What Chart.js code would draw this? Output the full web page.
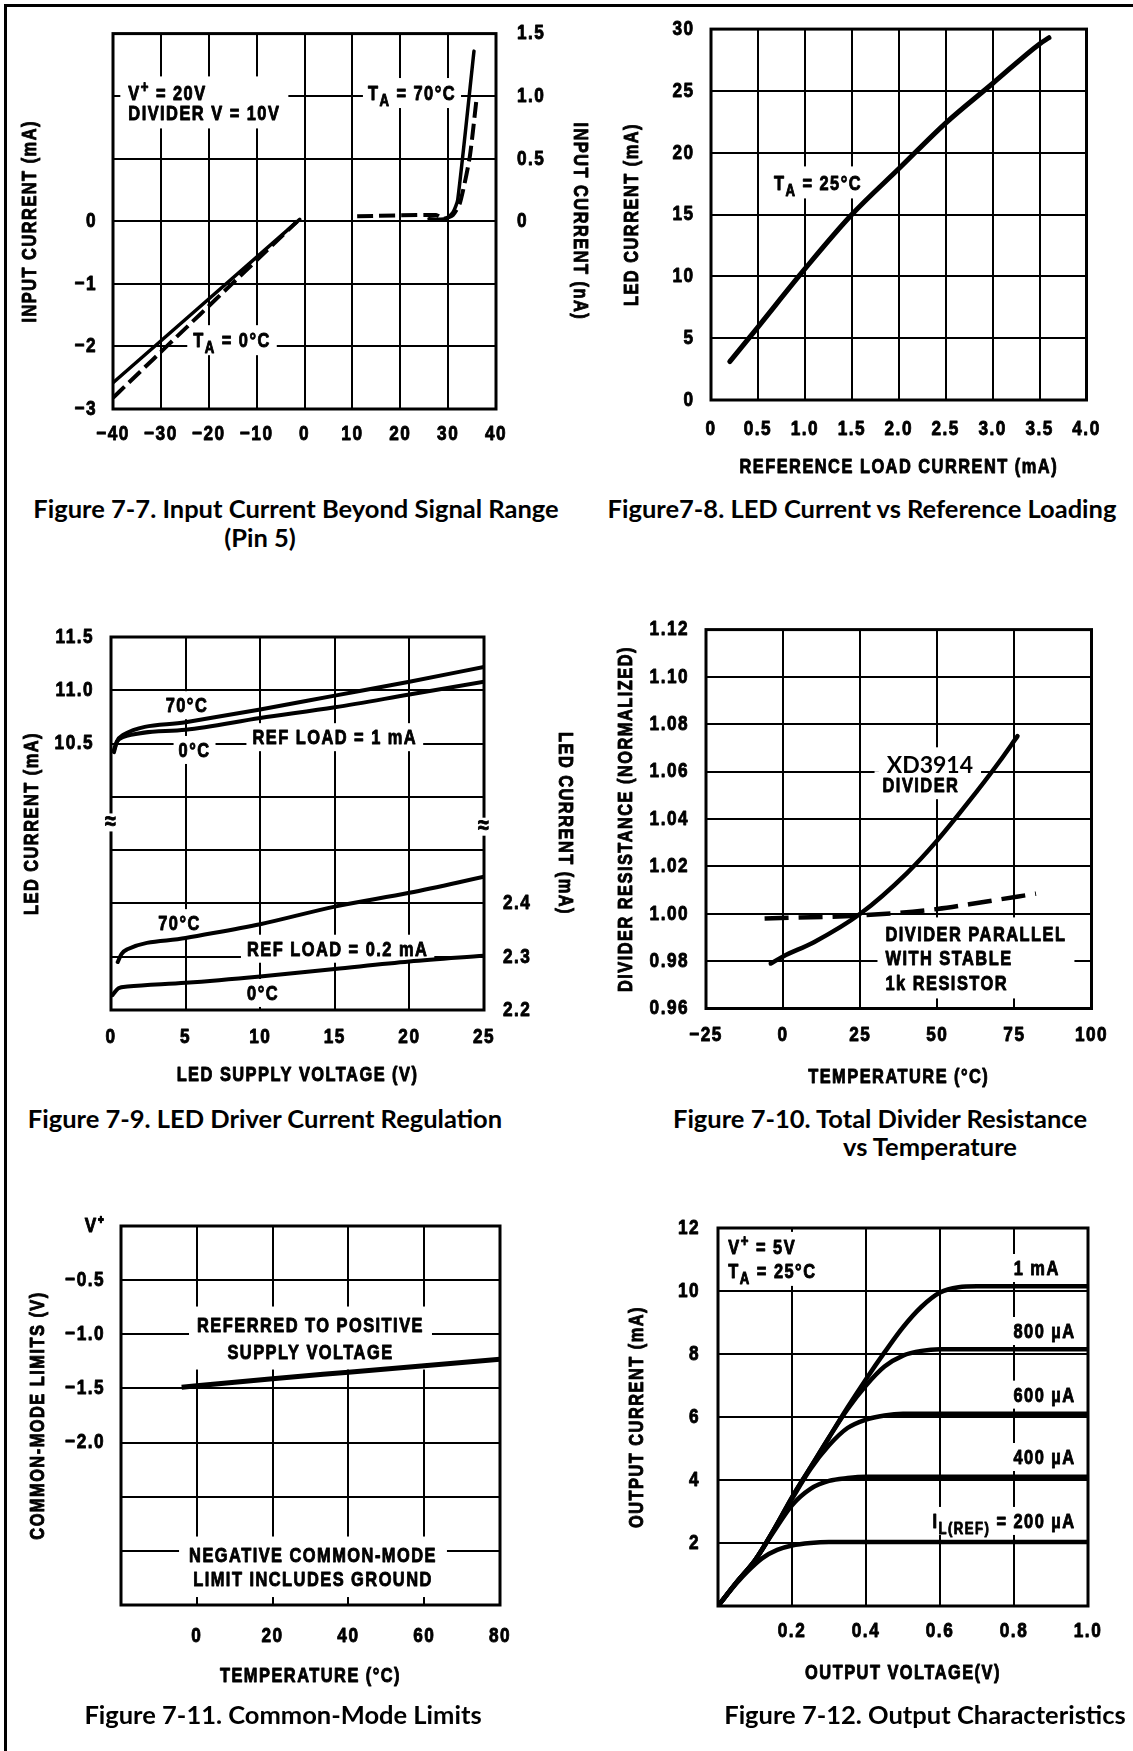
<!DOCTYPE html>
<html>
<head>
<meta charset="utf-8">
<script src="https://cdn.jsdelivr.net/npm/chart.js@4.4.1/dist/chart.umd.min.js"></script>
<style>
  html, body { margin: 0; padding: 0; background: #fff; }
  #page { position: relative; width: 1133px; height: 1751px; overflow: hidden; background: #fff; }
  #frame { position: absolute; left: 4px; top: 4px; width: 1200px; height: 1800px; border-top: 3px solid #000; border-left: 3px solid #000; }
  canvas { position: absolute; }
  .cap { position: absolute; width: 640px; text-align: center; font-family: Lato, "Open Sans", sans-serif; font-weight: 700; font-size: 25.5px; line-height: 30px; color: #000; white-space: nowrap; }
</style>
</head>
<body>
<div id="page">
  <div id="frame"></div>
  <canvas id="c1" width="600" height="460" style="left:0;top:0"></canvas>
  <canvas id="c2" width="553" height="480" style="left:580px;top:0"></canvas>
  <canvas id="c3" width="600" height="500" style="left:0;top:600px"></canvas>
  <canvas id="c4" width="553" height="500" style="left:580px;top:600px"></canvas>
  <canvas id="c5" width="580" height="530" style="left:0;top:1170px"></canvas>
  <canvas id="c6" width="553" height="530" style="left:580px;top:1170px"></canvas>

  <div class="cap" style="left:-24px;top:493px">Figure 7-7. Input Current Beyond Signal Range</div>
  <div class="cap" style="left:-60px;top:522px">(Pin 5)</div>
  <div class="cap" style="left:542px;top:493px">Figure7-8. LED Current vs Reference Loading</div>
  <div class="cap" style="left:-55px;top:1103px">Figure 7-9. LED Driver Current Regulation</div>
  <div class="cap" style="left:560px;top:1103px">Figure 7-10. Total Divider Resistance</div>
  <div class="cap" style="left:610px;top:1131px">vs Temperature</div>
  <div class="cap" style="left:-37px;top:1699px">Figure 7-11. Common-Mode Limits</div>
  <div class="cap" style="left:605px;top:1699px">Figure 7-12. Output Characteristics</div>
</div>
<script>
const FONT = '"Liberation Sans", Arial, sans-serif';
const SQUEEZE = 0.82;   // narrow the lettering like the condensed face in the datasheet
const HEAVY = 0.9;      // extra stroke so the lettering is as dark as the print

// Figure 7-7 input current beyond signal range
const f77XTicks = ['−40', '−30', '−20', '−10', '0', '10', '20', '30', '40'];
const f77YTicks = ['−3', '−2', '−1', '0', '', '', ''];
const f77Y2Ticks = ['', '', '', '0', '0.5', '1.0', '1.5'];
const f77ColdX = [-40, -1];
const f77ColdSolid = [-2.58, 0.03];
const f77ColdDashX = [-40, -1.5];
const f77ColdDash = [-2.82, 0];
const f77HotX = [26, 29.5, 31, 32, 35.4];
const f77HotSolid = [0.02, 0.02, 0.07, 0.17, 1.36];
const f77HotDashX = [11, 27.5, 29, 31, 32.5, 34.5, 36];
const f77HotDash = [0.04, 0.05, 0.02, 0.05, 0.15, 0.51, 1.0];

// Figure 7-8 LED current vs reference load
const f78XTicks = ['0', '0.5', '1.0', '1.5', '2.0', '2.5', '3.0', '3.5', '4.0'];
const f78YTicks = ['0', '5', '10', '15', '20', '25', '30'];
const f78X = [0.2, 0.5, 1.0, 1.5, 2.0, 2.5, 3.0, 3.5, 3.6];
const f78Led = [3.1, 5.9, 10.6, 15.0, 18.7, 22.4, 25.6, 28.8, 29.3];

// Figure 7-9 LED driver current regulation
const f79XTicks = ['0', '5', '10', '15', '20', '25'];
const f79YTicks = ['', '', '', '', '', '10.5', '11.0', '11.5'];
const f79Y2Ticks = ['2.2', '2.3', '2.4', '', '', '', '', ''];
const f79HiX = [0.2, 0.4, 0.8, 5, 10, 15, 20, 25];
const f79Hi70 = [10.42, 10.52, 10.58, 10.70, 10.82, 10.95, 11.08, 11.22];
const f79Hi0 = [10.44, 10.52, 10.56, 10.63, 10.74, 10.84, 10.96, 11.08];
const f79Lo70X = [0.45, 0.7, 1.1, 5, 10, 15, 20, 25];
const f79Lo70 = [2.29, 2.305, 2.314, 2.335, 2.361, 2.394, 2.42, 2.45];
const f79Lo0X = [0.1, 0.5, 1.1, 5, 10, 15, 20, 25];
const f79Lo0 = [2.228, 2.241, 2.244, 2.251, 2.263, 2.277, 2.291, 2.302];

// Figure 7-10 divider resistance vs temperature
const f710XTicks = ['−25', '0', '25', '50', '75', '100'];
const f710YTicks = ['0.96', '0.98', '1.00', '1.02', '1.04', '1.06', '1.08', '1.10', '1.12'];
const f710DivX = [-4, 0, 10, 25, 40, 50, 60, 70, 76];
const f710Div = [0.979, 0.982, 0.988, 1.000, 1.017, 1.031, 1.047, 1.064, 1.075];
const f710ParX = [-6, 25, 50, 65, 82];
const f710Par = [0.998, 0.9993, 1.002, 1.005, 1.0085];

// Figure 7-11 common-mode limits
const f711XTicks = ['', '0', '20', '40', '60', '80'];
const f711YTicks = ['', '', '', '−2.0', '−1.5', '−1.0', '−0.5', 'V⁺'];
const f711X = [-4, 0, 20, 40, 60, 80];
const f711Lim = [-1.49, -1.475, -1.41, -1.35, -1.29, -1.23];

// Figure 7-12 output characteristics
const f712XTicks = ['', '0.2', '0.4', '0.6', '0.8', '1.0'];
const f712YTicks = ['', '2', '4', '6', '8', '10', '12'];
const f712X1m = [0, 0.05, 0.1, 0.15, 0.2, 0.25, 0.3, 0.35, 0.4, 0.45, 0.5, 0.55, 0.6, 0.65, 0.7, 1.0];
const f712I1m = [0, 0.75, 1.45, 2.4, 3.45, 4.4, 5.35, 6.3, 7.2, 8.05, 8.85, 9.5, 9.95, 10.12, 10.15, 10.15];
const f712X800 = [0, 0.05, 0.1, 0.15, 0.2, 0.25, 0.3, 0.35, 0.4, 0.45, 0.5, 0.55, 0.6, 1.0];
const f712I800 = [0, 0.75, 1.45, 2.4, 3.45, 4.4, 5.35, 6.25, 7.0, 7.6, 7.95, 8.1, 8.15, 8.15];
const f712X600 = [0, 0.05, 0.1, 0.15, 0.2, 0.25, 0.3, 0.35, 0.4, 0.45, 0.5, 1.0];
const f712I600 = [0, 0.75, 1.45, 2.4, 3.4, 4.35, 5.1, 5.65, 5.92, 6.05, 6.1, 6.1];
const f712X400 = [0, 0.05, 0.1, 0.15, 0.2, 0.25, 0.3, 0.35, 0.4, 1.0];
const f712I400 = [0, 0.75, 1.45, 2.35, 3.2, 3.72, 3.97, 4.06, 4.1, 4.1];
const f712X200 = [0, 0.05, 0.08, 0.12, 0.16, 0.2, 0.25, 0.3, 1.0];
const f712I200 = [0, 0.72, 1.1, 1.52, 1.78, 1.92, 2.0, 2.03, 2.03];

const tickFont = { family: FONT, size: 21, weight: 'bold' };
const titleFont = { family: FONT, size: 20, weight: 'bold' };

function line(xs, ys, extra) {
  return Object.assign({
    data: xs.map((x, i) => ({ x: x, y: ys[i] })),
    borderColor: '#000', borderWidth: 4, pointRadius: 0, showLine: true,
    borderCapStyle: 'round', borderJoinStyle: 'round', cubicInterpolationMode: 'monotone'
  }, extra || {});
}
function dashed(xs, ys, dash, extra) {
  return line(xs, ys, Object.assign({ borderDash: dash, borderCapStyle: 'butt' }, extra || {}));
}

function xAxis(min, max, step, labels, h, tickPad, title, titlePad) {
  return {
    type: 'linear', position: 'bottom', min: min, max: max,
    ticks: { stepSize: step, padding: tickPad, autoSkip: false, maxRotation: 0, minRotation: 0, color: '#000', font: tickFont, callback: (v, i) => labels[i] },
    grid: { color: '#000', lineWidth: 2, drawTicks: false },
    border: { display: false },
    title: { display: !!title, text: title || '', color: '#000', font: titleFont, padding: { top: 0, bottom: titlePad || 0 } },
    afterFit: s => { s.height = h; }
  };
}
function yAxis(pos, min, max, step, labels, w, tickPad, title, titlePad, grid) {
  return {
    type: 'linear', position: pos, min: min, max: max,
    ticks: { stepSize: step, padding: tickPad, autoSkip: false, color: '#000', font: tickFont, callback: (v, i) => labels[i] },
    grid: { display: grid, color: '#000', lineWidth: 2, drawTicks: false },
    border: { display: false },
    title: { display: true, text: title, color: '#000', font: titleFont, padding: { top: titlePad, bottom: 0 } },
    afterFit: s => { s.width = w; }
  };
}

function parseRich(str) {
  const out = [];
  const re = /([_^])\{([^}]*)\}/g;
  let last = 0, m;
  while ((m = re.exec(str))) {
    if (m.index > last) out.push([str.slice(last, m.index), 0]);
    out.push([m[2], m[1] === '_' ? 1 : 2]);
    last = re.lastIndex;
  }
  if (last < str.length) out.push([str.slice(last), 0]);
  return out;
}

// labels inside the plot sit on a white patch that breaks the grid:
// all patches first, then all lettering
function drawNotes(chart, notes) {
  const ctx = chart.ctx;
  const laid = notes.map(n => {
    const px = chart.scales[n.xAxis || 'x'].getPixelForValue(n.x);
    const py = chart.scales[n.yAxis || 'y'].getPixelForValue(n.y);
    const size = n.size || 20, fam = n.family || FONT, lh = n.lh || 24, pad = n.pad || [6, 4];
    const k = n.squeeze || SQUEEZE;
    const spacing = (n.spacing != null ? n.spacing : 1.8) + 'px';
    const font = f => 'bold ' + (f ? Math.round(size * 0.78) : size) + 'px ' + fam;
    const lines = n.lines.map(parseRich);
    ctx.save();
    ctx.letterSpacing = spacing;
    const widths = lines.map(segs => segs.reduce((w, s) => { ctx.font = font(s[1]); return w + ctx.measureText(s[0]).width * k; }, 0));
    ctx.restore();
    return { n, px, py, size, lh, pad, k, spacing, font, lines, widths };
  });
  ctx.save();
  ctx.fillStyle = '#fff';
  laid.forEach(o => {
    const maxW = Math.max.apply(null, o.widths);
    const a = o.n.align;
    const boxL = a === 'left' ? o.px : a === 'right' ? o.px - maxW : o.px - maxW / 2;
    const top = o.py - o.size * 0.5, bottom = o.py + (o.lines.length - 1) * o.lh + o.size * 0.5;
    ctx.fillRect(boxL - o.pad[0], top - o.pad[1], maxW + 2 * o.pad[0], bottom - top + 2 * o.pad[1]);
  });
  ctx.restore();
  laid.forEach(o => {
    ctx.save();
    ctx.squeeze = o.k;
    ctx.heavy = o.n.heavy != null ? o.n.heavy : HEAVY;
    ctx.letterSpacing = o.spacing;
    ctx.fillStyle = '#000';
    ctx.textAlign = 'left';
    ctx.textBaseline = 'alphabetic';
    o.lines.forEach((segs, li) => {
      const w = o.widths[li], a = o.n.align;
      let cx = a === 'left' ? o.px : a === 'right' ? o.px - w : o.px - w / 2;
      const base = o.py + li * o.lh + o.size * 0.36;
      segs.forEach(s => {
        ctx.font = o.font(s[1]);
        const dy = s[1] === 1 ? o.size * 0.3 : s[1] === 2 ? -o.size * 0.4 : 0;
        ctx.fillText(s[0], cx, base + dy);
        cx += ctx.measureText(s[0]).width * o.k;
      });
    });
    ctx.squeeze = SQUEEZE;
    ctx.heavy = HEAVY;
    ctx.restore();
  });
}

function drawBreaks(chart, breaks) {
  const ctx = chart.ctx;
  breaks.forEach(b => {
    const px = chart.scales.x.getPixelForValue(b.x), py = chart.scales[b.yAxis].getPixelForValue(b.y);
    ctx.save();
    ctx.fillStyle = '#fff';
    ctx.fillRect(px - 4, py - 9, 8, 18);
    ctx.fillStyle = '#000';
    ctx.font = 'bold 24px ' + FONT;
    ctx.textAlign = 'center';
    ctx.textBaseline = 'middle';
    ctx.fillText('≈', px, py);
    ctx.restore();
  });
}

const sheet = {
  id: 'sheet',
  beforeInit(chart) {
    // every string on these canvases is drawn horizontally narrowed around its anchor
    const ctx = chart.ctx, fill = ctx.fillText;
    ctx.squeeze = SQUEEZE;
    ctx.heavy = HEAVY;
    ctx.fillText = function (t, x, y, mw) {
      const k = this.squeeze;
      this.save();
      this.translate(x, y);
      this.scale(k, 1);
      if (mw === undefined) fill.call(this, t, 0, 0); else fill.call(this, t, 0, 0, mw / k);
      if (this.heavy) {
        this.lineWidth = this.heavy;
        this.lineJoin = 'round';
        this.setLineDash([]);
        this.strokeStyle = this.fillStyle;
        this.strokeText(t, 0, 0);
      }
      this.restore();
    };
  },
  beforeDraw(chart) { chart.ctx.letterSpacing = '1.8px'; },
  beforeDatasetsDraw(chart, args, opts) { drawNotes(chart, opts.notes || []); },
  afterDatasetsDraw(chart, args, opts) {
    const a = chart.chartArea, ctx = chart.ctx;
    ctx.save();
    ctx.strokeStyle = '#000';
    ctx.lineWidth = 3;
    ctx.strokeRect(a.left, a.top, a.right - a.left, a.bottom - a.top);
    ctx.restore();
    drawBreaks(chart, opts.breaks || []);
  }
};

function build(id, pad, scales, datasets, notes, breaks) {
  return new Chart(document.getElementById(id), {
    type: 'scatter',
    data: { datasets: datasets },
    options: {
      responsive: false, animation: false, events: [],
      layout: { padding: pad },
      plugins: { legend: { display: false }, tooltip: { enabled: false }, sheet: { notes: notes || [], breaks: breaks || [] } },
      scales: scales
    },
    plugins: [sheet]
  });
}

build('c1', { top: 28, left: 0, right: 0, bottom: 0 }, {
  x: xAxis(-40, 40, 10, f77XTicks, 51, 12.4),
  y: yAxis('left', -3, 3, 1, f77YTicks, 113, 16, 'INPUT CURRENT (mA)', 18, true),
  y2: yAxis('right', -1.5, 1.5, 0.5, f77Y2Ticks, 104, 21, 'INPUT CURRENT (nA)', 8, false)
}, [
  line(f77ColdX, f77ColdSolid, { yAxisID: 'y', borderWidth: 3.5 }),
  dashed(f77ColdDashX, f77ColdDash, [16, 6], { yAxisID: 'y', borderWidth: 4 }),
  line(f77HotX, f77HotSolid, { yAxisID: 'y2', borderWidth: 3.5, cubicInterpolationMode: 'default', tension: 0.2 }),
  dashed(f77HotDashX, f77HotDash, [16, 6], { yAxisID: 'y2', borderWidth: 4, cubicInterpolationMode: 'default', tension: 0.2 })
], [
  { x: -36.8, y: 2.06, align: 'left', lines: ['V^{+} = 20V', 'DIVIDER V = 10V'], lh: 20, pad: [8, 6] },
  { x: 22.45, y: 2.05, align: 'center', lines: ['T_{A} = 70°C'], pad: [5, 5] },
  { x: -15.14, y: -1.9, align: 'center', lines: ['T_{A} = 0°C'], pad: [6, 5] }
]);

build('c2', { top: 27.5, left: 0, right: 46.5, bottom: 0 }, {
  x: xAxis(0, 4, 0.5, f78XTicks, 80, 16.4, 'REFERENCE LOAD CURRENT (mA)', 1),
  y: yAxis('left', 0, 30, 5, f78YTicks, 131, 16.5, 'LED CURRENT (mA)', 40.5, true)
}, [
  line(f78X, f78Led, { borderWidth: 5 })
], [
  { x: 1.14, y: 17.6, align: 'center', lines: ['T_{A} = 25°C'], pad: [6, 6] }
]);

build('c3', { top: 37, left: 0, right: 0, bottom: 0 }, {
  x: xAxis(0, 25, 5, f79XTicks, 90, 14.4, 'LED SUPPLY VOLTAGE (V)', 12.4),
  y: yAxis('left', 8, 11.5, 0.5, f79YTicks, 111, 17, 'LED CURRENT (mA)', 20, true),
  y2: yAxis('right', 2.2, 2.9, 0.1, f79Y2Ticks, 116, 19, 'LED CURRENT (mA)', 23, false)
}, [
  line(f79HiX, f79Hi70, { yAxisID: 'y' }),
  line(f79HiX, f79Hi0, { yAxisID: 'y' }),
  line(f79Lo70X, f79Lo70, { yAxisID: 'y2' }),
  line(f79Lo0X, f79Lo0, { yAxisID: 'y2' })
], [
  { x: 5.09, y: 10.86, align: 'center', lines: ['70°C'], pad: [5, 4] },
  { x: 5.6, y: 10.44, align: 'center', lines: ['0°C'], pad: [5, 4] },
  { x: 15.0, y: 10.56, align: 'center', lines: ['REF LOAD = 1 mA'], pad: [6, 4] },
  { x: 4.59, y: 2.363, yAxis: 'y2', align: 'center', lines: ['70°C'], pad: [5, 4] },
  { x: 15.19, y: 2.315, yAxis: 'y2', align: 'center', lines: ['REF LOAD = 0.2 mA'], pad: [6, 4] },
  { x: 10.19, y: 2.232, yAxis: 'y2', align: 'center', lines: ['0°C'], pad: [5, 4] }
], [
  { x: 0, y: 9.76, yAxis: 'y' },
  { x: 25, y: 2.544, yAxis: 'y2' }
]);

build('c4', { top: 27.5, left: 0, right: 41.5, bottom: 0 }, {
  x: xAxis(-25, 100, 25, f710XTicks, 91.5, 13.9, 'TEMPERATURE (°C)', 10.5),
  y: yAxis('left', 0.96, 1.12, 0.02, f710YTicks, 126, 17, 'DIVIDER RESISTANCE (NORMALIZED)', 34, true)
}, [
  line(f710DivX, f710Div, { borderWidth: 4.5 }),
  dashed(f710ParX, f710Par, [24, 10], { borderWidth: 4.5 })
], [
  { x: 47.6, y: 1.0629, align: 'center', lines: ['XD3914'], family: 'Lato, sans-serif', size: 23, spacing: 0, squeeze: 1, heavy: 0, pad: [8, 6] },
  { x: 44.7, y: 1.0543, align: 'center', lines: ['DIVIDER'], pad: [8, 4] },
  { x: 33.2, y: 0.9917, align: 'left', lines: ['DIVIDER PARALLEL', 'WITH STABLE', '1k RESISTOR'], lh: 24.5, pad: [8, 6] }
]);

build('c5', { top: 56, left: 0, right: 80, bottom: 0 }, {
  x: xAxis(-20, 80, 20, f711XTicks, 95, 18.4, 'TEMPERATURE (°C)', 12),
  y: yAxis('left', -3.5, 0, 0.5, f711YTicks, 121, 16, 'COMMON-MODE LIMITS (V)', 26, true)
}, [
  line(f711X, f711Lim, { borderWidth: 5, borderCapStyle: 'butt' })
], [
  { x: 30, y: -0.91, align: 'center', lines: ['REFERRED TO POSITIVE', 'SUPPLY VOLTAGE'], lh: 27, pad: [8, 8] },
  { x: 30.66, y: -3.034, align: 'center', lines: ['NEGATIVE COMMON-MODE', 'LIMIT INCLUDES GROUND'], lh: 24.5, pad: [10, 8] }
]);

build('c6', { top: 58, left: 0, right: 45, bottom: 0 }, {
  x: xAxis(0, 1, 0.2, f712XTicks, 94, 12.7, 'OUTPUT VOLTAGE(V)', 15),
  y: yAxis('left', 0, 12, 2, f712YTicks, 138, 18, 'OUTPUT CURRENT (mA)', 45, true)
}, [
  line(f712X1m, f712I1m, { borderWidth: 4.5 }),
  line(f712X800, f712I800, { borderWidth: 4.5 }),
  line(f712X600, f712I600, { borderWidth: 4.5 }),
  line(f712X400, f712I400, { borderWidth: 4.5 }),
  line(f712X200, f712I200, { borderWidth: 4.5 })
], [
  { x: 0.028, y: 11.40, align: 'left', lines: ['V^{+} = 5V', 'T_{A} = 25°C'], lh: 24, pad: [10, 5] },
  { x: 0.9236, y: 10.73, align: 'right', lines: ['1 mA'], pad: [6, 4] },
  { x: 0.9663, y: 8.73, align: 'right', lines: ['800 µA'], pad: [6, 4] },
  { x: 0.9663, y: 6.71, align: 'right', lines: ['600 µA'], pad: [6, 4] },
  { x: 0.9663, y: 4.73, align: 'right', lines: ['400 µA'], pad: [6, 4] },
  { x: 0.9663, y: 2.70, align: 'right', lines: ['I_{L(REF)} = 200 µA'], pad: [6, 4] }
]);
</script>
</body>
</html>
